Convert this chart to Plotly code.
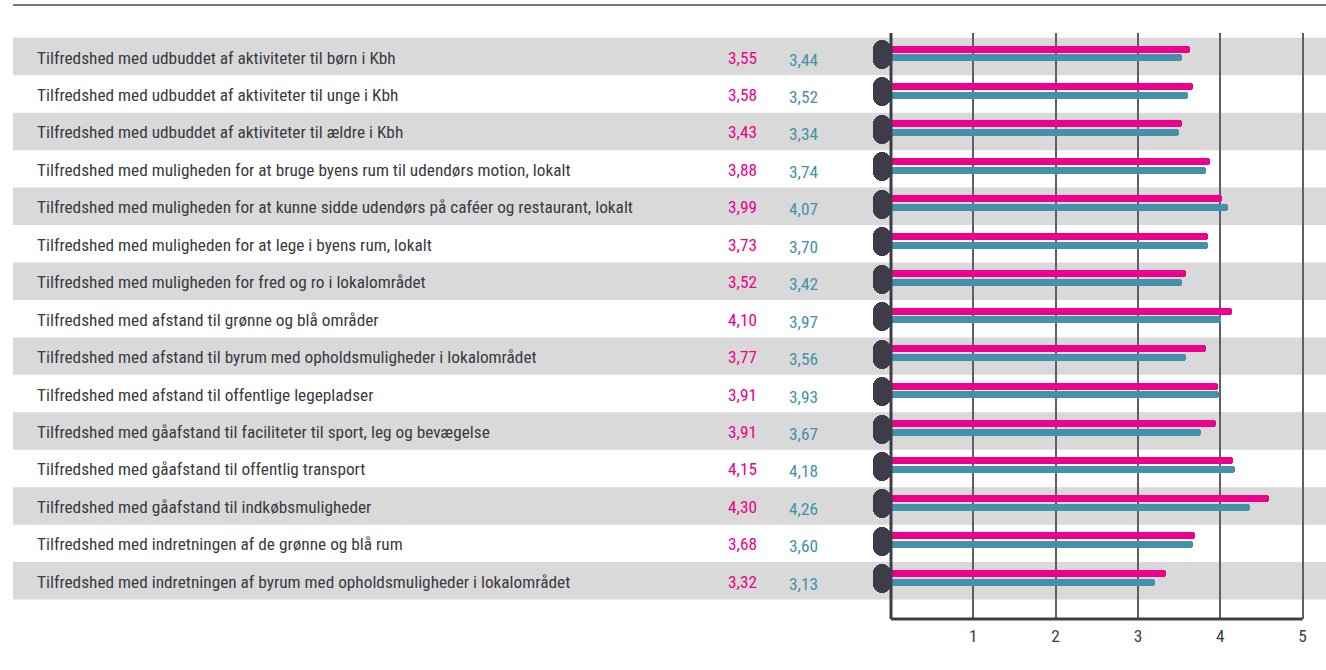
import plotly.graph_objects as go

categories = [
    "Tilfredshed med udbuddet af aktiviteter til børn i Kbh",
    "Tilfredshed med udbuddet af aktiviteter til unge i Kbh",
    "Tilfredshed med udbuddet af aktiviteter til ældre i Kbh",
    "Tilfredshed med muligheden for at bruge byens rum til udendørs motion, lokalt",
    "Tilfredshed med muligheden for at kunne sidde udendørs på caféer og restaurant, lokalt",
    "Tilfredshed med muligheden for at lege i byens rum, lokalt",
    "Tilfredshed med muligheden for fred og ro i lokalområdet",
    "Tilfredshed med afstand til grønne og blå områder",
    "Tilfredshed med afstand til byrum med opholdsmuligheder i lokalområdet",
    "Tilfredshed med afstand til offentlige legepladser",
    "Tilfredshed med gåafstand til faciliteter til sport, leg og bevægelse",
    "Tilfredshed med gåafstand til offentlig transport",
    "Tilfredshed med gåafstand til indkøbsmuligheder",
    "Tilfredshed med indretningen af de grønne og blå rum",
    "Tilfredshed med indretningen af byrum med opholdsmuligheder i lokalområdet",
]

# printed values
values_pink = [3.55, 3.58, 3.43, 3.88, 3.99, 3.73, 3.52, 4.10, 3.77, 3.91, 3.91, 4.15, 4.30, 3.68, 3.32]
values_teal = [3.44, 3.52, 3.34, 3.74, 4.07, 3.70, 3.42, 3.97, 3.56, 3.93, 3.67, 4.18, 4.26, 3.60, 3.13]

# bar lengths as drawn in the picture
bar_pink = [3.63, 3.67, 3.54, 3.88, 4.02, 3.85, 3.58, 4.14, 3.83, 3.97, 3.95, 4.16, 4.59, 3.69, 3.34]
bar_teal = [3.54, 3.61, 3.50, 3.83, 4.09, 3.85, 3.54, 4.01, 3.58, 3.98, 3.77, 4.18, 4.36, 3.67, 3.21]

tick_values = [1, 2, 3, 4, 5]
tick_labels = ["1", "2", "3", "4", "5"]

PINK = "#ec008c"
TEAL = "#4391ab"
DARK = "#3d3c48"
BAND = "#d9d9d9"
TEXT = "#3a3a42"
FONT = "Liberation Sans Narrow, Roboto Condensed, Arial Narrow, Roboto, sans-serif"

W, H = 1326, 670
ML, MR, MT, MB = 870, 0, 33, 51
PW = W - ML - MR
PH = H - MT - MB


def px_to_paper_x(px):
    return (px - ML) / PW


def px_to_paper_y(py):
    return (H - MB - py) / PH


n = len(categories)
rows = list(range(n))

fig = go.Figure()

# dark capsule at the start of each row
fig.add_trace(go.Bar(
    y=rows, x=[-0.217] * n, base=0, orientation="h",
    width=0.774, offset=-0.44,
    marker=dict(color=DARK, cornerradius=9, line=dict(width=0)),
    hoverinfo="skip", showlegend=False,
))
fig.add_trace(go.Bar(
    y=rows, x=bar_pink, orientation="h",
    width=0.187, offset=-0.2935,
    marker=dict(color=PINK, cornerradius=4, line=dict(width=0)),
    showlegend=False,
))
fig.add_trace(go.Bar(
    y=rows, x=bar_teal, orientation="h",
    width=0.187, offset=-0.058,
    marker=dict(color=TEAL, cornerradius=4, line=dict(width=0)),
    showlegend=False,
))

shapes = []
# alternating grey bands
for i in rows:
    if i % 2 == 0:
        shapes.append(dict(type="rect", xref="paper", yref="y",
                           x0=px_to_paper_x(13), x1=1, y0=i - 0.5, y1=i + 0.5,
                           fillcolor=BAND, line=dict(width=0), layer="below"))
# top rule
shapes.append(dict(type="line", xref="paper", yref="paper",
                   x0=px_to_paper_x(13), x1=1, y0=px_to_paper_y(5), y1=px_to_paper_y(5),
                   line=dict(color="#7a7a7a", width=2)))
# axis lines
shapes.append(dict(type="line", xref="x", yref="paper", x0=0, x1=0, y0=0, y1=1,
                   line=dict(color=DARK, width=3), layer="above"))
shapes.append(dict(type="line", xref="x", yref="paper", x0=0, x1=5, y0=0, y1=0,
                   line=dict(color=DARK, width=3), layer="above"))

annotations = []
for i in rows:
    annotations.append(dict(xref="paper", yref="y", x=px_to_paper_x(35), y=i,
                            text=categories[i], showarrow=False, xanchor="left",
                            yanchor="middle", yshift=-1,
                            font=dict(family=FONT, size=17.3, color=TEXT)))
    annotations.append(dict(xref="paper", yref="y", x=px_to_paper_x(742), y=i,
                            text=f"{values_pink[i]:.2f}".replace(".", ","), showarrow=False,
                            xanchor="center", yanchor="middle", yshift=-1,
                            font=dict(family=FONT, size=17.3, color=PINK)))
    annotations.append(dict(xref="paper", yref="y", x=px_to_paper_x(803), y=i,
                            text=f"{values_teal[i]:.2f}".replace(".", ","), showarrow=False,
                            xanchor="center", yanchor="middle", yshift=-3,
                            font=dict(family=FONT, size=17.3, color=TEAL)))

x_min = (ML - 891) / 82.3
x_max = (W - MR - 891) / 82.3

fig.update_layout(
    width=W, height=H,
    margin=dict(l=ML, r=MR, t=MT, b=MB, pad=0),
    paper_bgcolor="white", plot_bgcolor="rgba(0,0,0,0)",
    barmode="overlay", bargap=0,
    shapes=shapes, annotations=annotations,
    font=dict(family=FONT, color=DARK),
    xaxis=dict(range=[x_min, x_max], tickvals=tick_values, ticktext=tick_labels,
               showgrid=True, gridcolor="#5f5e68", gridwidth=1.5, zeroline=False,
               showline=False, ticks="", ticklabelstandoff=5,
               tickfont=dict(family=FONT, size=17.3, color=DARK),
               fixedrange=True),
    yaxis=dict(range=[15.02, -0.6275], showgrid=False, zeroline=False,
               showticklabels=False, showline=False, fixedrange=True),
)

fig.write_html("out.html", config={"displayModeBar": False},
               post_script="document.body.style.margin='0px';document.body.style.padding='0px';")
